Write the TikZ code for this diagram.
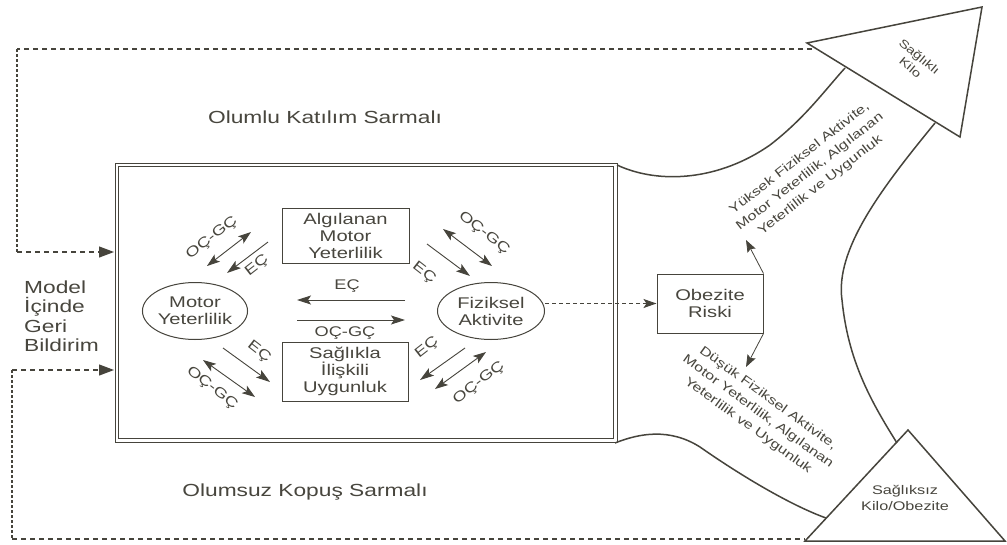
\documentclass[tikz,border=0pt]{standalone}
\usepackage{fontspec}
\setmainfont[FakeStretch=1.3]{Liberation Sans}
\usetikzlibrary{arrows.meta,shapes.geometric}
\definecolor{ink}{RGB}{70,68,60}
\definecolor{txt}{RGB}{72,70,62}
\begin{document}
\begin{tikzpicture}[x=1pt,y=-1pt,
  every node/.style={text=txt},
  lbl/.style={font=\fontsize{15.5}{17}\selectfont, align=center},
  small/.style={font=\fontsize{14}{16}\selectfont, inner sep=0pt},
  rect/.style={draw=ink, line width=1pt, lbl, inner sep=0pt},
  oval/.style={draw=ink, line width=1pt, ellipse, lbl, inner sep=0pt, minimum width=104pt, minimum height=57pt},
  thick line/.style={draw=ink, line width=1.5pt},
  arr/.style={draw=ink, line width=0.9pt, -{Stealth[length=14pt,width=9pt,inset=3pt]}},
  darr/.style={draw=ink, line width=0.9pt, {Stealth[length=13pt,width=9pt,inset=3pt]}-{Stealth[length=13pt,width=9pt,inset=3pt]}},
  fb/.style={draw=ink, line width=1.2pt, dash pattern=on 5pt off 4pt},
  fbv/.style={draw=ink, line width=1.7pt, dash pattern=on 2.5pt off 2.5pt},
  fbarr/.style={fb, -{Triangle[length=15pt,width=11pt]}},
  slanted/.style={font=\fontsize{12.5}{17}\selectfont, align=center, inner sep=0pt}
]
\useasboundingbox (0,0) rectangle (1007,544);
\fill[white] (0,0) rectangle (1007,544);

% big arrows
\draw[thick line] (617,165) .. controls (660,185) and (720,180) .. (770,145)
   .. controls (805,118) and (825,90) .. (845,68);
\draw[thick line] (935,123) .. controls (880,190) and (835,250) .. (842,300)
   .. controls (848,360) and (870,400) .. (897,443);
\draw[thick line] (615,443) .. controls (640,433) and (670,428) .. (700,447)
   .. controls (740,475) and (790,505) .. (826,518);
\draw[thick line, line join=miter] (807,43) -- (982,7) -- (960,137) -- cycle;
\draw[thick line, line join=miter] (908,430) -- (1005,541) -- (805,541) -- cycle;

\node[slanted, font=\fontsize{11.5}{14}\selectfont, rotate=-40] (saglikli) at (915,62) {Sağlıklı\\Kilo};
\node[slanted, font=\fontsize{12.5}{16}\selectfont] (sagliksiz) at (905,498) {Sağlıksız\\Kilo/Obezite};
\node[slanted, rotate=38] (yuksek) at (810,172) {Yüksek Fiziksel Aktivite,\\Motor Yeterlilik, Algılanan\\Yeterlilik ve Uygunluk};
\node[slanted, rotate=-36] (dusuk) at (758,412) {Düşük Fiziksel Aktivite,\\Motor Yeterlilik, Algılanan\\Yeterlilik ve Uygunluk};

% outer double box
\draw[draw=ink, line width=1pt] (115,163) rectangle (617,442);
\draw[draw=ink, line width=1pt] (118.5,166.5) rectangle (613.5,438.5);
\coordinate (boxw1) at (114,252);
\coordinate (boxw2) at (114,370);

% spiral labels
\node[font=\fontsize{17.5}{20}\selectfont] (olumlu) at (325,117) {Olumlu Katılım Sarmalı};
\node[font=\fontsize{17.5}{20}\selectfont] (olumsuz) at (305,492) {Olumsuz Kopuş Sarmalı};
\node[font=\fontsize{17.5}{19.5}\selectfont, align=left, anchor=west, inner sep=0pt] (model) at (24,316) {Model\\İçinde\\Geri\\Bildirim};

% feedback lines
\draw[fb] (812,49) -- (17,49);
\draw[fbv] (17,49) -- (17,252);
\draw[fbarr] (17,252) -- (boxw1);
\draw[fbarr] (12,370) -- (boxw2);
\draw[fbv] (12,370) -- (12,539);
\draw[fb] (12,539) -- (805,539);

% inner nodes
\node[rect, minimum width=127pt, minimum height=55pt] (alg) at (345.5,235.5) {Algılanan\\Motor\\Yeterlilik};
\node[rect, minimum width=126pt, minimum height=59pt] (sag) at (345,371.5) {Sağlıkla\\İlişkili\\Uygunluk};
\node[oval] (mot) at (195,311) {Motor\\Yeterlilik};
\node[oval, minimum width=107pt] (fiz) at (491,311) {Fiziksel\\Aktivite};
\node[rect, minimum width=106pt, minimum height=59pt] (obez) at (710,303.5) {Obezite\\Riski};

% middle arrows
\coordinate (mR1) at (405,300);
\coordinate (mL1) at (297,300);
\coordinate (mL2) at (297,320);
\coordinate (mR2) at (405,320);
\draw[arr] (mR1) -- (mL1);
\draw[arr] (mL2) -- (mR2);
\node[small] (ec0) at (347,286) {EÇ};
\node[small] (ocgc0) at (345,333) {OÇ-GÇ};

% upper-left
\coordinate (a1) at (207,266); \coordinate (a2) at (251,232);
\draw[darr] (a1) -- (a2);
\coordinate (b1) at (268,242); \coordinate (b2) at (227,273);
\draw[arr] (b1) -- (b2);
\node[small, rotate=38] (ul1) at (212,238) {OÇ-GÇ};
\node[small, rotate=38] (ul2) at (257,266) {EÇ};

% upper-right
\coordinate (c1) at (443,229); \coordinate (c2) at (492,266);
\draw[darr] (c1) -- (c2);
\coordinate (d1) at (427,244); \coordinate (d2) at (470,276);
\draw[arr] (d1) -- (d2);
\node[small, rotate=-38] (ur1) at (484,233) {OÇ-GÇ};
\node[small, rotate=-38] (ur2) at (424,273) {EÇ};

% lower-left
\coordinate (e1) at (223,348); \coordinate (e2) at (270,382);
\draw[arr] (e1) -- (e2);
\coordinate (f1) at (203,360); \coordinate (f2) at (255,397);
\draw[darr] (f1) -- (f2);
\node[small, rotate=-38] (ll1) at (259,352) {EÇ};
\node[small, rotate=-38] (ll2) at (212,388) {OÇ-GÇ};

% lower-right
\coordinate (g1) at (465,348); \coordinate (g2) at (420,380);
\draw[arr] (g1) -- (g2);
\coordinate (h1) at (435,389); \coordinate (h2) at (486,352);
\draw[darr] (h1) -- (h2);
\node[small, rotate=38] (lr1) at (427,348) {EÇ};
\node[small, rotate=38] (lr2) at (479,383) {OÇ-GÇ};

% obezite links
\draw[draw=ink, line width=1pt, dash pattern=on 4pt off 3pt, -{Stealth[length=13pt,width=9pt,inset=3pt]}] (fiz.east |- obez.west) -- (obez.west);
\coordinate (up) at (746,240);
\coordinate (down) at (746,367);
\draw[draw=ink, line width=0.8pt, -{Stealth[length=12pt,width=9pt,inset=2pt]}] (obez.north east) -- (up);
\draw[draw=ink, line width=0.8pt, -{Stealth[length=12pt,width=9pt,inset=2pt]}] (obez.south east) -- (down);
\end{tikzpicture}
\end{document}
